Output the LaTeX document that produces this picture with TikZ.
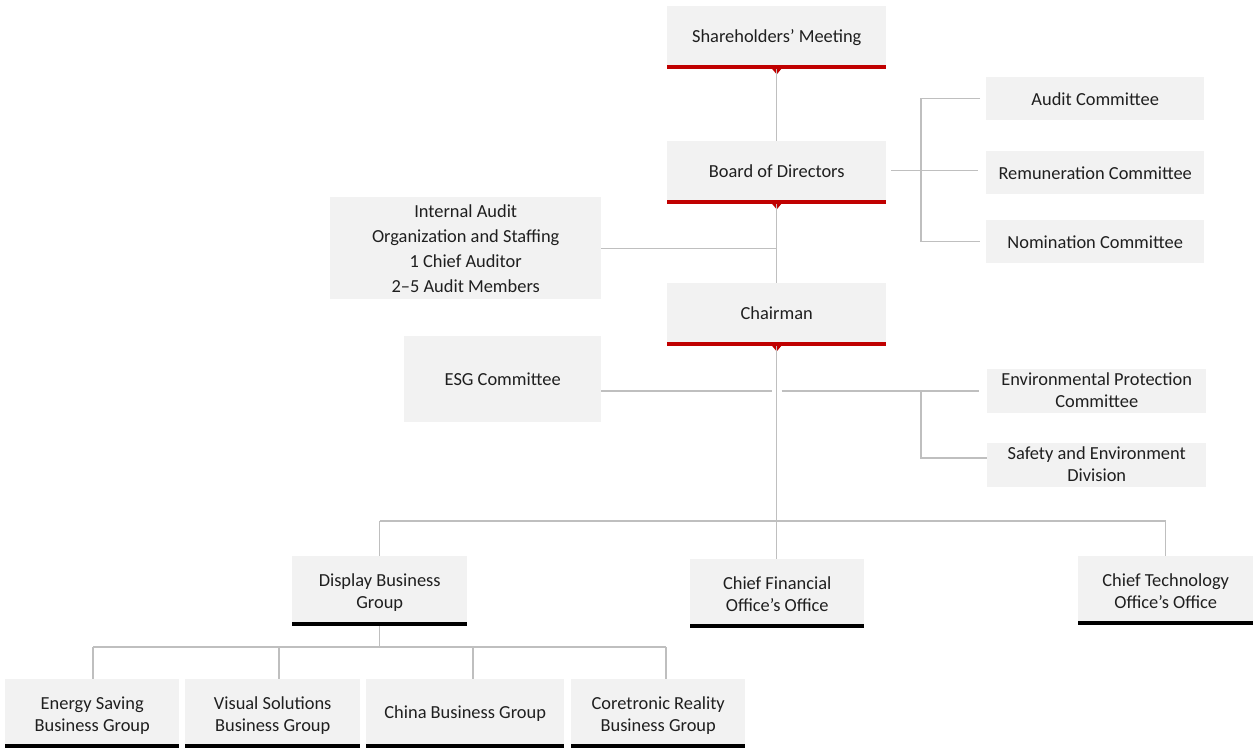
\documentclass[tikz,border=0pt]{standalone}
\usepackage{fontspec}
\setmainfont{Carlito}
\usetikzlibrary{calc}
\definecolor{boxfill}{HTML}{F2F2F2}
\definecolor{redbar}{HTML}{C00000}
\definecolor{linegray}{HTML}{BFBFBF}
\newcommand\mlines[2][4pt]{\raisebox{0pt}[\dimexpr\height+#1\relax][\dimexpr\depth-#1\relax]{\begin{tabular}{@{}c@{}}#2\end{tabular}}}
\begin{document}
\begin{tikzpicture}[x=1pt,y=-1pt,
  box/.style={fill=boxfill, inner sep=0pt, align=center, anchor=north west,
    font=\fontsize{18.4}{22}\selectfont, text=black!88,
    execute at begin node={\rule{0pt}{18pt}},
    execute at end node={\rule[-5pt]{0pt}{5pt}}},
  conn/.style={draw=linegray, line width=1.2pt},
  rbar/.style={draw=redbar, line width=4pt},
  kbar/.style={draw=black, line width=4pt}]
\useasboundingbox (0,0) rectangle (1260,752);

% top chain
\node[box, minimum width=219pt, minimum height=59pt] (sh) at (667,6) {Shareholders’ Meeting};
\node[box, minimum width=219pt, minimum height=59pt] (bod) at (667,141) {Board of Directors};
\node[box, minimum width=219pt, minimum height=59pt] (ch) at (667,283) {Chairman};

\foreach \n in {sh,bod,ch}{
  \draw[rbar] ($(\n.south west)+(0,-2pt)$) -- ($(\n.south east)+(0,-2pt)$);
  \fill[redbar] ($(\n.south)+(-5pt,-3pt)$) -- ++(10pt,0) -- ++(-5pt,-6pt) -- cycle;
}

% committees
\node[box, minimum width=218pt, minimum height=43pt] (ac) at (986,77) {Audit Committee};
\node[box, minimum width=218pt, minimum height=43pt] (rc) at (986,151) {Remuneration Committee};
\node[box, minimum width=218pt, minimum height=43pt] (nc) at (986,220) {Nomination Committee};

\node[box, minimum width=271pt, minimum height=102pt,
  font=\fontsize{18.4}{25}\selectfont] (ia) at (330,197)
  {\mlines[2pt]{Internal Audit\\Organization and Staffing\\1 Chief Auditor\\2–5 Audit Members}};

\node[box, minimum width=197pt, minimum height=86pt] (esg) at (404,336) {ESG Committee};
\node[box, minimum width=219pt, minimum height=42pt] (epc) at (987,369) {\mlines[1pt]{Environmental Protection\\Committee}};
\node[box, minimum width=219pt, minimum height=43pt] (sed) at (987,443) {\mlines[1pt]{Safety and Environment\\Division}};

% level 3
\node[box, minimum width=175pt, minimum height=66pt] (dbg) at (292,556) {\mlines{Display Business\\Group}};
\node[box, minimum width=174pt, minimum height=65pt] (cfo) at (690,559) {\mlines{Chief Financial\\Office’s Office}};
\node[box, minimum width=175pt, minimum height=65pt] (cto) at (1078,556) {\mlines{Chief Technology\\Office’s Office}};

% bottom
\node[box, minimum width=174pt, minimum height=65pt] (es) at (5,679) {\mlines{Energy Saving\\Business Group}};
\node[box, minimum width=175pt, minimum height=65pt] (vs) at (185,679) {\mlines{Visual Solutions\\Business Group}};
\node[box, minimum width=198pt, minimum height=65pt] (cb) at (366,679) {China Business Group};
\node[box, minimum width=174pt, minimum height=65pt] (cr) at (571,679) {\mlines{Coretronic Reality\\Business Group}};

\foreach \n in {dbg,cfo,cto,es,vs,cb,cr}{
  \draw[kbar] ($(\n.south west)+(0,-2pt)$) -- ($(\n.south east)+(0,-2pt)$);
}

% connectors: main spine
\draw[conn] ($(sh.south)+(0,-4pt)$) -- (bod.north);
\draw[conn] ($(bod.south)+(0,-4pt)$) -- (ch.north);
\draw[conn] ($(ch.south)+(0,-4pt)$) -- (ch.south |- cfo.north);
\draw[conn] (ia.east) -- (ia.east -| ch.north);

% board committees bracket
\coordinate (bx) at (921,0);
\draw[conn] ($(bod.east)+(5pt,0)$) -- ($(bod.east -| rc.west)+(-8pt,0)$);
\draw[conn] ($(ac.west)+(-6pt,0)$) -- (bx |- ac.west) -- (bx |- nc.west) -- ($(nc.west)+(-6pt,0)$);

% ESG row
\coordinate (ey) at (0,391);
\coordinate (sy) at (0,458);
\draw[conn] (esg.east |- ey) -- ($(ch.south |- ey)+(-5pt,0)$);
\draw[conn] ($(ch.south |- ey)+(5pt,0)$) -- ($(epc.west |- ey)+(-8pt,0)$);
\draw[conn] (bx |- ey) -- (bx |- sy) -- (sed.west |- sy);

% level-3 bus
\coordinate (by) at (0,521);
\draw[conn] (dbg.north |- by) -- (cto.north |- by);
\draw[conn] (dbg.north |- by) -- (dbg.north);
\draw[conn] (cto.north |- by) -- (cto.north);

% display subtree
\coordinate (dy) at (0,647);
\coordinate (x1) at (93,0);
\coordinate (x2) at (279,0);
\coordinate (x3) at (473,0);
\coordinate (x4) at (666,0);
\draw[conn] ($(dbg.south)+(0,-4pt)$) -- (dbg.south |- dy);
\draw[conn] (x1 |- dy) -- (x4 |- dy);
\draw[conn] (x1 |- dy) -- (x1 |- es.north);
\draw[conn] (x2 |- dy) -- (x2 |- vs.north);
\draw[conn] (x3 |- dy) -- (x3 |- cb.north);
\draw[conn] (x4 |- dy) -- (x4 |- cr.north);
\end{tikzpicture}
\end{document}
